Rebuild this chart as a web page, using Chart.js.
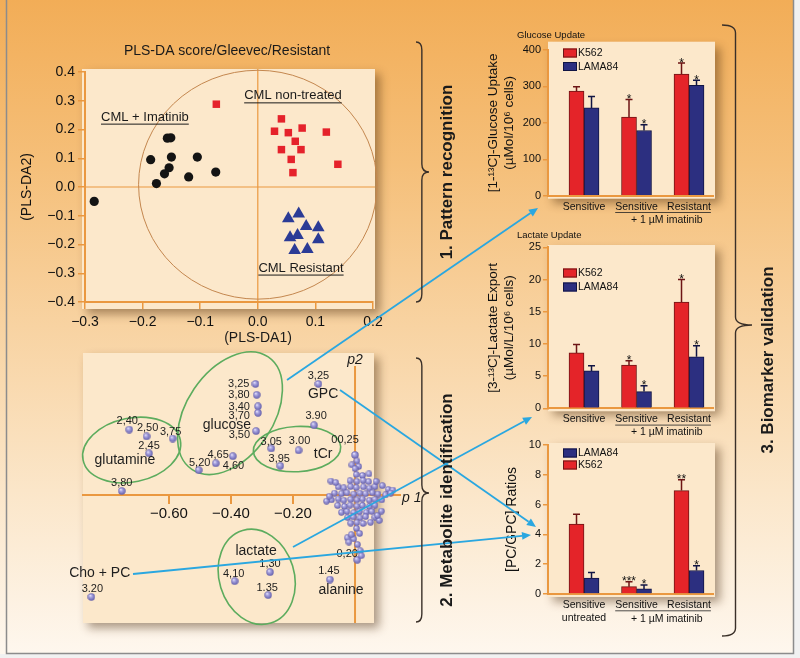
<!DOCTYPE html>
<html>
<head>
<meta charset="utf-8">
<title>PLS-DA score, loadings and biomarker validation</title>
<script src="https://cdn.jsdelivr.net/npm/chart.js@4.4.1/dist/chart.umd.min.js"></script>
<style>
html, body { margin: 0; padding: 0; }
body { width: 800px; height: 658px; position: relative; overflow: hidden; background: #f1f1f1; }
#bg { position: absolute; left: 0; top: 0; width: 794px; height: 654px;
  background: linear-gradient(180deg, #f2ad57 0%, #f5bf79 25%, #f8d3a2 50%, #fbe6c9 75%, #fef7ee 100%); }
.pane { position: absolute; }
canvas { display: block; }
#overlay { position: absolute; left: 0; top: 0; pointer-events: none; }
</style>
</head>
<body>
<div id="bg"></div>
<div class="pane" style="left:0;top:30px"><canvas id="score" width="458" height="320"></canvas></div>
<div class="pane" style="left:60px;top:340px"><canvas id="loadings" width="370" height="300"></canvas></div>
<div class="pane" style="left:480px;top:20px"><canvas id="glucose" width="260" height="215"></canvas></div>
<div class="pane" style="left:480px;top:230px"><canvas id="lactate" width="260" height="210"></canvas></div>
<div class="pane" style="left:480px;top:430px"><canvas id="ratio" width="260" height="228"></canvas></div>
<canvas id="overlay" width="800" height="658"></canvas>
<script>
// ---- score plot: PLS-DA1 / PLS-DA2 ----
const imatinibX = [-0.157, -0.151, -0.186, -0.150, -0.105, -0.154, -0.162, -0.176, -0.120, -0.073, -0.284];
const imatinibY = [0.170, 0.171, 0.095, 0.104, 0.104, 0.067, 0.046, 0.012, 0.035, 0.052, -0.050];
const nonTreatedX = [-0.072, 0.041, 0.029, 0.053, 0.077, 0.119, 0.065, 0.041, 0.075, 0.058, 0.061, 0.139];
const nonTreatedY = [0.288, 0.237, 0.194, 0.189, 0.205, 0.191, 0.159, 0.130, 0.130, 0.096, 0.050, 0.079];
const resistantX = [0.071, 0.053, 0.084, 0.105, 0.056, 0.069, 0.105, 0.064, 0.086];
const resistantY = [-0.093, -0.110, -0.137, -0.141, -0.176, -0.168, -0.183, -0.220, -0.217];

// ---- loadings plot: p1 / p2 ----
const loadLabels = ['3,25', '3,80', '3,40', '3,70', '3,50', '4,65', '4,60', '5,20', '2,40', '2,50', '3,75', '2,45', '3,80',
  '3,25', '3.90', '3,05', '3.00', '3,95', '1,30', '4,10', '1.35', '1.45', '0,20', '3.20', '00,25'];
const loadP1 = [-0.321, -0.317, -0.313, -0.313, -0.319, -0.394, -0.449, -0.504, -0.728, -0.672, -0.588, -0.664, -0.752,
  -0.118, -0.132, -0.270, -0.182, -0.241, -0.274, -0.388, -0.280, -0.081, 0.007, -0.850, 0.000];
const loadP2 = [0.358, 0.323, 0.286, 0.265, 0.206, 0.125, 0.102, 0.080, 0.211, 0.189, 0.182, 0.134, 0.013,
  0.358, 0.225, 0.150, 0.144, 0.094, -0.249, -0.278, -0.323, -0.273, -0.209, -0.329, 0.129];
const clusterLoadings = [
  [0.004, 0.066], [0.024, 0.063],
  [-0.016, 0.046], [0.006, 0.044], [0.026, 0.047], [0.044, 0.043],
  [-0.054, 0.026], [-0.036, 0.023], [-0.014, 0.027], [0.004, 0.024], [0.027, 0.026], [0.046, 0.022], [0.064, 0.027],
  [-0.066, 0.006], [-0.044, 0.004], [-0.026, 0.007], [-0.004, 0.003], [0.016, 0.006], [0.034, 0.004], [0.056, 0.007], [0.074, 0.003],
  [-0.076, -0.016], [-0.054, -0.013], [-0.036, -0.017], [-0.014, -0.014], [0.006, -0.016], [0.024, -0.013], [0.046, -0.017], [0.064, -0.014], [0.086, -0.016],
  [-0.056, -0.034], [-0.034, -0.037], [-0.016, -0.033], [0.006, -0.036], [0.024, -0.034], [0.046, -0.037], [0.064, -0.033],
  [-0.044, -0.056], [-0.026, -0.053], [-0.004, -0.057], [0.014, -0.054], [0.036, -0.056], [0.054, -0.053],
  [-0.024, -0.073], [-0.006, -0.071], [0.016, -0.074], [0.034, -0.070], [0.064, -0.072],
  [-0.014, -0.091], [0.006, -0.089], [0.026, -0.092], [0.050, -0.088],
  [0.006, 0.110], [0.012, 0.092], [-0.010, 0.097], [0.000, 0.085],
  [0.045, 0.068], [0.068, 0.044], [0.088, 0.030], [0.107, 0.018], [0.122, 0.016],
  [-0.078, 0.045], [-0.062, 0.040], [-0.092, -0.020], [-0.083, -0.004],
  [0.098, 0.000], [0.115, 0.006],
  [0.005, -0.108], [0.015, -0.124], [-0.004, -0.142], [0.008, -0.160], [0.017, -0.180], [0.020, -0.196],
  [-0.025, -0.138], [-0.012, -0.128], [-0.020, -0.152],
  [0.078, -0.082], [0.072, -0.066], [0.085, -0.052]
];
const loadTicks = [-0.6, -0.4, -0.2];

// ---- bar charts ----
const groups = ['Sensitive', 'Sensitive', 'Resistant'];
const ratioGroups = [['Sensitive', 'untreated'], 'Sensitive', 'Resistant'];
const glucoseK562 = [287, 216, 334];
const glucoseK562Err = [12, 48, 30];
const glucoseLAMA = [241, 179, 303];
const glucoseLAMAErr = [31, 16, 14];
const glucoseK562Stars = ['', '*', '*'];
const glucoseLAMAStars = ['', '*', '*'];
const lactateK562 = [8.6, 6.7, 16.5];
const lactateK562Err = [1.3, 0.7, 3.5];
const lactateLAMA = [5.8, 2.6, 8.0];
const lactateLAMAErr = [0.8, 0.9, 1.7];
const lactateK562Stars = ['', '*', '*'];
const lactateLAMAStars = ['', '*', '*'];
const ratioK562 = [4.7, 0.49, 6.94];
const ratioK562Err = [0.65, 0.33, 0.72];
const ratioLAMA = [1.07, 0.34, 1.58];
const ratioLAMAErr = [0.38, 0.27, 0.32];
const ratioK562Stars = ['', '***', '**'];
const ratioLAMAStars = ['', '*', '*'];

// layout helpers (annotation anchors, not data)
const scoreEllipse = [0, 0.008, 0.207, 0.398];
const groupLabelPos = [[-0.196, 0.243], [0.061, 0.317], [0.075, -0.282]];
const labelPos = [[-6, 0, 'right'], [-7, 0, 'right'], [-8, 1, 'right'], [-8, 3, 'right'], [-6, 4, 'right'], [-4, -1, 'right'],
  [7, 3, 'left'], [1, -7, 'center'], [-2, -9, 'center'], [1, -8, 'center'], [-2, -7, 'center'], [0, -7, 'center'],
  [0, -8, 'center'], [0, -8, 'center'], [2, -9, 'center'], [0, -7, 'center'], [1, -9, 'center'], [-1, -7, 'center'],
  [0, -8, 'center'], [-1, -7, 'center'], [-1, -7, 'center'], [-1, -9, 'center'], [-10, -6, 'center'], [1, -8, 'center'],
  [-10, -15, 'center']];
const metaboliteNames = [['glutamine', -0.742, 0.113], ['glucose', -0.413, 0.226], ['tCr', -0.103, 0.132], ['GPC', -0.103, 0.326],
  ['lactate', -0.319, -0.181], ['alanine', -0.045, -0.306], ['Cho + PC', -0.823, -0.252]];
const ellipses = [[-0.720, 0.145, 0.160, 0.103, -11.7], [-0.403, 0.264, 0.219, 0.140, -55.8],
  [-0.187, 0.148, 0.141, 0.073, -3], [-0.317, -0.264, 0.156, 0.121, 73]];

const FONT = '"Liberation Sans", Arial, Helvetica, sans-serif';
const ORANGE = '#ea9840';
const PANEL = '#fce8cb';
Chart.defaults.font.family = FONT;
Chart.defaults.color = '#111';

function dec(v, n) {
  if (Math.abs(v) < 1e-9) v = 0;
  return v.toFixed(n).replace('-', '\u2212');
}

const panelPlugin = {
  id: 'panel',
  beforeDraw(chart, args, o) {
    const {ctx, chartArea: a} = chart;
    const p = o.pad;
    ctx.save();
    ctx.shadowColor = 'rgba(70,40,10,0.45)';
    ctx.shadowBlur = 9;
    ctx.shadowOffsetX = 5;
    ctx.shadowOffsetY = 5;
    ctx.fillStyle = PANEL;
    ctx.fillRect(a.left - p[0], a.top - p[1], a.width + p[0] + p[2], a.height + p[1] + p[3]);
    ctx.restore();
  }
};

// ---------- score plot ----------
const scoreDeco = {
  id: 'scoreDeco',
  beforeDatasetsDraw(chart) {
    const {ctx, chartArea: a, scales: {x, y}} = chart;
    const x0 = x.getPixelForValue(0), y0 = y.getPixelForValue(0);
    ctx.save();
    ctx.strokeStyle = ORANGE;
    ctx.lineWidth = 1.2;
    ctx.beginPath();
    ctx.moveTo(x0, a.top - 3); ctx.lineTo(x0, a.bottom);
    ctx.moveTo(a.left, y0); ctx.lineTo(a.right + 2, y0);
    ctx.stroke();
    const cx = x.getPixelForValue(scoreEllipse[0]), cy = y.getPixelForValue(scoreEllipse[1]);
    ctx.strokeStyle = '#c4874f';
    ctx.lineWidth = 1;
    ctx.beginPath();
    ctx.ellipse(cx, cy, x.getPixelForValue(scoreEllipse[2]) - x0, y0 - y.getPixelForValue(scoreEllipse[3]), 0, 0, Math.PI * 2);
    ctx.stroke();
    ctx.restore();
  },
  afterDatasetsDraw(chart) {
    const {ctx, scales: {x, y}} = chart;
    ctx.save();
    ctx.fillStyle = '#1a1a1a';
    ctx.strokeStyle = '#1a1a1a';
    ctx.lineWidth = 1;
    ctx.font = '13px ' + FONT;
    ctx.textAlign = 'center';
    ctx.textBaseline = 'middle';
    chart.data.datasets.forEach((ds, i) => {
      const px = x.getPixelForValue(groupLabelPos[i][0]), py = y.getPixelForValue(groupLabelPos[i][1]);
      ctx.fillText(ds.label, px, py);
      const w = ctx.measureText(ds.label).width;
      ctx.beginPath();
      ctx.moveTo(px - w / 2, py + 7); ctx.lineTo(px + w / 2, py + 7);
      ctx.stroke();
    });
    ctx.font = '14px ' + FONT;
    ctx.fillText('PLS-DA score/Gleevec/Resistant', 227, 21);
    ctx.fillText('(PLS-DA1)', 258, 308);
    ctx.restore();
  }
};

new Chart(document.getElementById('score'), {
  type: 'scatter',
  data: {
    datasets: [
      { label: 'CML + Imatinib', data: imatinibX.map((v, i) => ({x: v, y: imatinibY[i]})),
        pointStyle: 'circle', pointRadius: 4.6, backgroundColor: '#141414', borderWidth: 0 },
      { label: 'CML non-treated', data: nonTreatedX.map((v, i) => ({x: v, y: nonTreatedY[i]})),
        pointStyle: 'rect', pointRadius: 5.3, backgroundColor: '#e5222b', borderWidth: 0 },
      { label: 'CML Resistant', data: resistantX.map((v, i) => ({x: v, y: resistantY[i]})),
        pointStyle: 'triangle', pointRadius: 7.3, backgroundColor: '#2b3b96', borderWidth: 0 }
    ]
  },
  options: {
    responsive: false, animation: false, devicePixelRatio: 1,
    layout: { padding: { left: 0, top: 42, right: 85, bottom: 0 } },
    plugins: { legend: { display: false }, tooltip: { enabled: false }, panel: { pad: [3, 3, 2, 7] } },
    scales: {
      x: {
        type: 'linear', min: -0.3, max: 0.2,
        ticks: { stepSize: 0.1, callback: v => dec(v, 1), font: { size: 14 }, padding: 5, maxRotation: 0 },
        grid: { drawOnChartArea: false, tickLength: 7, color: ORANGE, lineWidth: 1.5 },
        border: { color: ORANGE, width: 2 },
        afterFit: s => { s.height = 48; }
      },
      y: {
        min: -0.4, max: 0.4,
        ticks: { stepSize: 0.1, callback: v => dec(v, 1), font: { size: 14 }, padding: 3 },
        grid: { drawOnChartArea: false, tickLength: 7, color: ORANGE, lineWidth: 1.5 },
        border: { color: ORANGE, width: 2 },
        title: { display: true, text: '(PLS-DA2)', font: { size: 14 }, padding: { top: 18.6, bottom: 0 } },
        afterFit: s => { s.width = 85; }
      }
    }
  },
  plugins: [panelPlugin, scoreDeco]
});

// ---------- loadings plot ----------
function sphere(d) {
  const c = document.createElement('canvas');
  c.width = d; c.height = d;
  const g = c.getContext('2d');
  const r = d / 2;
  const grad = g.createRadialGradient(r * 0.7, r * 0.6, 0, r, r, r);
  grad.addColorStop(0, '#f4f2ff');
  grad.addColorStop(0.35, '#aba7e3');
  grad.addColorStop(1, '#5c57a5');
  g.fillStyle = grad;
  g.beginPath(); g.arc(r, r, r - 0.3, 0, Math.PI * 2); g.fill();
  return c;
}

const loadDeco = {
  id: 'loadDeco',
  beforeDatasetsDraw(chart) {
    const {ctx, chartArea: a, scales: {x, y}} = chart;
    const x0 = x.getPixelForValue(0), y0 = y.getPixelForValue(0);
    ctx.save();
    ctx.strokeStyle = ORANGE;
    ctx.lineWidth = 2;
    ctx.beginPath(); ctx.moveTo(x0, a.top + 13); ctx.lineTo(x0, a.bottom); ctx.stroke();
    ctx.strokeStyle = '#5dac5e';
    ctx.lineWidth = 1.6;
    ellipses.forEach(e => {
      const cx = x.getPixelForValue(e[0]), cy = y.getPixelForValue(e[1]);
      const rx = x.getPixelForValue(e[2]) - x0, ry = y0 - y.getPixelForValue(e[3]);
      ctx.beginPath();
      ctx.ellipse(cx, cy, rx, ry, e[4] * Math.PI / 180, 0, Math.PI * 2);
      ctx.stroke();
    });
    ctx.fillStyle = '#1a1a1a';
    ctx.font = 'italic 14px ' + FONT;
    ctx.textAlign = 'center';
    ctx.textBaseline = 'middle';
    ctx.fillText('p2', x0, a.top + 7);
    ctx.textAlign = 'left';
    ctx.fillText('p 1', a.right + 2, y0 + 3);
    ctx.restore();
  },
  afterDatasetsDraw(chart) {
    const {ctx, scales: {x, y}} = chart;
    ctx.save();
    ctx.fillStyle = '#1e1e1e';
    ctx.textBaseline = 'middle';
    ctx.font = '11px ' + FONT;
    loadLabels.forEach((t, i) => {
      const p = labelPos[i];
      ctx.textAlign = p[2];
      ctx.fillText(t, x.getPixelForValue(loadP1[i]) + p[0], y.getPixelForValue(loadP2[i]) + p[1]);
    });
    ctx.font = '14px ' + FONT;
    ctx.textAlign = 'center';
    metaboliteNames.forEach(m => {
      ctx.fillText(m[0], x.getPixelForValue(m[1]), y.getPixelForValue(m[2]));
    });
    ctx.restore();
  }
};

new Chart(document.getElementById('loadings'), {
  type: 'scatter',
  data: {
    datasets: [
      { label: 'cluster', data: clusterLoadings.map(p => ({x: p[0], y: p[1]})), pointStyle: sphere(7), pointRadius: 3.5 },
      { label: 'metabolites', data: loadP1.map((v, i) => ({x: v, y: loadP2[i]})), pointStyle: sphere(8), pointRadius: 4 }
    ]
  },
  options: {
    responsive: false, animation: false, devicePixelRatio: 1,
    layout: { padding: { left: 23, top: 13, right: 30, bottom: 17 } },
    plugins: { legend: { display: false }, tooltip: { enabled: false }, panel: { pad: [0, 0, -26, 0] } },
    scales: {
      x: {
        type: 'linear', min: -0.877, max: 0.145, position: { y: 0 },
        afterBuildTicks: s => { s.ticks = loadTicks.map(v => ({value: v})); },
        ticks: { callback: v => dec(v, 2), font: { size: 15 }, padding: 2, autoSkip: false, maxRotation: 0 },
        grid: { drawOnChartArea: false, tickLength: 8, color: ORANGE, lineWidth: 2 },
        border: { color: ORANGE, width: 2 }
      },
      y: { min: -0.413, max: 0.458, display: false }
    }
  },
  plugins: [panelPlugin, loadDeco]
});

// ---------- bar charts ----------
const barDeco = {
  id: 'barDeco',
  afterDatasetsDraw(chart, args, o) {
    const {ctx, chartArea: a, scales: {x, y}} = chart;
    ctx.save();
    chart.data.datasets.forEach((ds, di) => {
      chart.getDatasetMeta(di).data.forEach((bar, i) => {
        const top = y.getPixelForValue(ds.data[i].y + ds.err[i]);
        ctx.strokeStyle = ds.borderColor;
        ctx.lineWidth = 1.5;
        ctx.beginPath();
        ctx.moveTo(bar.x, bar.y); ctx.lineTo(bar.x, top);
        ctx.moveTo(bar.x - 3.5, top); ctx.lineTo(bar.x + 3.5, top);
        ctx.stroke();
        if (ds.stars[i]) {
          ctx.fillStyle = '#111';
          ctx.font = '12px ' + FONT;
          ctx.textAlign = 'center';
          ctx.textBaseline = 'alphabetic';
          ctx.fillText(ds.stars[i], bar.x, top + 3.5);
        }
      });
    });
    // legend
    ctx.font = '10.5px ' + FONT;
    ctx.textAlign = 'left';
    ctx.textBaseline = 'middle';
    o.legendOrder.forEach((di, k) => {
      const ds = chart.data.datasets[di];
      const yy = a.top + o.legendTop + k * o.legendStep;
      ctx.fillStyle = ds.backgroundColor;
      ctx.fillRect(a.left + 15, yy - 4.5, 14, 9);
      ctx.strokeStyle = ds.borderColor;
      ctx.lineWidth = 1;
      ctx.strokeRect(a.left + 15.5, yy - 4, 13, 8);
      ctx.fillStyle = '#111';
      ctx.fillText(ds.label, a.left + 30, yy + 0.5);
    });
    // treatment bracket under the x labels
    const fs = 10.5;
    ctx.font = fs + 'px ' + FONT;
    const ly = x.top + x.options.ticks.padding + fs * 1.2 / 2;
    const x1 = x.getPixelForValue(1) - ctx.measureText('Sensitive').width / 2;
    const x2 = x.getPixelForValue(2) + ctx.measureText('Resistant').width / 2;
    ctx.strokeStyle = '#222';
    ctx.lineWidth = 0.8;
    ctx.beginPath(); ctx.moveTo(x1, ly + 5.5); ctx.lineTo(x2, ly + 5.5); ctx.stroke();
    ctx.fillStyle = '#111';
    ctx.textAlign = 'center';
    ctx.fillText('+ 1 \u00b5M imatinib', (x.getPixelForValue(1) + x.getPixelForValue(2)) / 2 + 4, ly + o.secondLine);
    if (o.title) {
      ctx.font = '9.5px ' + FONT;
      ctx.textAlign = 'left';
      ctx.fillText(o.title, o.titlePos[0], o.titlePos[1]);
    }
    ctx.restore();
  }
};

function makeBars(id, c) {
  return new Chart(document.getElementById(id), {
    type: 'bar',
    data: {
      datasets: [
        { label: 'K562', data: c.k562.map((v, i) => ({x: i, y: v})), err: c.k562Err, stars: c.k562Stars,
          backgroundColor: '#e42429', borderColor: '#6d1515', borderWidth: 1, barThickness: 15 },
        { label: 'LAMA84', data: c.lama.map((v, i) => ({x: i, y: v})), err: c.lamaErr, stars: c.lamaStars,
          backgroundColor: '#2c2f80', borderColor: '#111544', borderWidth: 1, barThickness: 15 }
      ]
    },
    options: {
      responsive: false, animation: false, devicePixelRatio: 1,
      layout: { padding: { left: 0, top: c.top, right: 27, bottom: 0 } },
      plugins: {
        legend: { display: false }, tooltip: { enabled: false },
        panel: { pad: [0, c.panelTop, 2, 3] },
        barDeco: { legendOrder: c.legendOrder, legendTop: c.legendTop, legendStep: c.legendStep,
          secondLine: c.secondLine, title: c.title, titlePos: c.titlePos }
      },
      scales: {
        x: {
          type: 'linear', min: -0.686, max: 2.457, offset: false,
          afterBuildTicks: s => { s.ticks = c.labels.map((l, i) => ({value: i})); },
          ticks: { callback: (v, i) => c.labels[i], autoSkip: false, maxRotation: 0, padding: 5, font: { size: 10.5 } },
          grid: { display: false, drawTicks: false, offset: false },
          border: { color: ORANGE, width: 2 },
          afterFit: s => { s.height = c.xh; }
        },
        y: {
          min: 0, max: c.max,
          ticks: { stepSize: c.step, font: { size: 11 }, padding: 2 },
          grid: { drawOnChartArea: false, tickLength: 5, color: ORANGE, lineWidth: 1.5 },
          border: { color: ORANGE, width: 2 },
          title: { display: true, text: c.yTitle, font: { size: c.yTitleSize, lineHeight: 1.2 }, padding: { top: c.yTitlePad, bottom: 0 } },
          afterFit: s => { s.width = 68; }
        }
      }
    },
    plugins: [panelPlugin, barDeco]
  });
}

makeBars('glucose', {
  k562: glucoseK562, k562Err: glucoseK562Err, k562Stars: glucoseK562Stars,
  lama: glucoseLAMA, lamaErr: glucoseLAMAErr, lamaStars: glucoseLAMAStars,
  max: 400, step: 100, top: 30, xh: 39.3, labels: groups,
  yTitle: ['[1-\u00b9\u00b3C]-Glucose Uptake', '(\u00b5Mol/10\u2076 cells)'], yTitleSize: 13.5, yTitlePad: 4.9,
  legendOrder: [0, 1], legendTop: 3, legendStep: 13.5, panelTop: 8.3, secondLine: 13,
  title: 'Glucose Update', titlePos: [37, 15]
});

makeBars('lactate', {
  k562: lactateK562, k562Err: lactateK562Err, k562Stars: lactateK562Stars,
  lama: lactateLAMA, lamaErr: lactateLAMAErr, lamaStars: lactateLAMAStars,
  max: 25, step: 5, top: 17.3, xh: 31.7, labels: groups,
  yTitle: ['[3-\u00b9\u00b3C]-Lactate Export', '(\u00b5Mol/L/10\u2076 cells)'], yTitleSize: 13.5, yTitlePad: 4.9,
  legendOrder: [0, 1], legendTop: 25.7, legendStep: 14, panelTop: 2.3, secondLine: 13,
  title: 'Lactate Update', titlePos: [37, 5]
});

makeBars('ratio', {
  k562: ratioK562, k562Err: ratioK562Err, k562Stars: ratioK562Stars,
  lama: ratioLAMA, lamaErr: ratioLAMAErr, lamaStars: ratioLAMAStars,
  max: 10, step: 2, top: 15, xh: 64, labels: ratioGroups,
  yTitle: '[PC/GPC] Ratios', yTitleSize: 14, yTitlePad: 23.3,
  legendOrder: [1, 0], legendTop: 8, legendStep: 12, panelTop: 2, secondLine: 14
});

// ---------- overlay: frame, arrows, braces, step labels ----------
const ov = document.getElementById('overlay').getContext('2d');
ov.strokeStyle = '#8c8c8c';
ov.lineWidth = 1.5;
ov.beginPath();
ov.moveTo(6.5, 0); ov.lineTo(6.5, 653.5); ov.lineTo(793.5, 653.5); ov.lineTo(793.5, 0);
ov.stroke();

function arrow(x1, y1, x2, y2) {
  const a = Math.atan2(y2 - y1, x2 - x1);
  const L = 9, W = 4;
  const bx = x2 - L * Math.cos(a), by = y2 - L * Math.sin(a);
  ov.beginPath(); ov.moveTo(x1, y1); ov.lineTo(bx, by); ov.stroke();
  ov.beginPath();
  ov.moveTo(x2, y2);
  ov.lineTo(bx + W * Math.sin(a), by - W * Math.cos(a));
  ov.lineTo(bx - W * Math.sin(a), by + W * Math.cos(a));
  ov.closePath(); ov.fill();
}
ov.strokeStyle = '#2aa7e0';
ov.fillStyle = '#2aa7e0';
ov.lineWidth = 1.8;
arrow(287, 380, 538, 208);
arrow(340, 390, 536, 527);
arrow(293, 547, 532, 417);
arrow(133, 574, 531, 535);

function brace(x0, x2, yTop, yTip, yBot) {
  const x1 = x0 + (x2 - x0) * 0.45, r = 8;
  ov.beginPath();
  ov.moveTo(x0, yTop);
  ov.quadraticCurveTo(x1, yTop, x1, yTop + r);
  ov.lineTo(x1, yTip - r);
  ov.quadraticCurveTo(x1, yTip, x2, yTip);
  ov.quadraticCurveTo(x1, yTip, x1, yTip + r);
  ov.lineTo(x1, yBot - r);
  ov.quadraticCurveTo(x1, yBot, x0, yBot);
  ov.stroke();
}
ov.strokeStyle = '#3a3029';
ov.lineWidth = 1.4;
brace(416, 429, 42, 172, 302);
brace(416, 429, 358, 493, 622);
brace(722, 752, 25, 325, 636);

function vtext(t, x, y) {
  ov.save();
  ov.translate(x, y);
  ov.rotate(-Math.PI / 2);
  ov.font = 'bold 17px ' + FONT;
  ov.fillStyle = '#1a1a1a';
  ov.textAlign = 'center';
  ov.textBaseline = 'middle';
  ov.fillText(t, 0, 0);
  ov.restore();
}
vtext('1. Pattern recognition', 447, 172);
vtext('2. Metabolite identification', 447, 500);
vtext('3. Biomarker validation', 768, 360);
</script>
</body>
</html>
